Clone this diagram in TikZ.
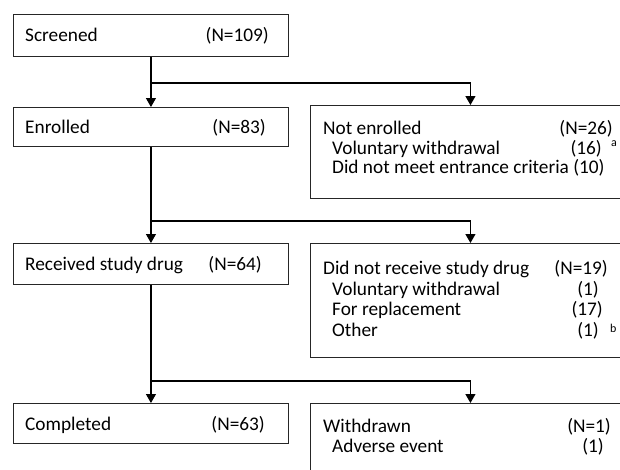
\documentclass[tikz,border=0pt]{standalone}
\usepackage{fontspec}
\setmainfont{Carlito}
\usetikzlibrary{arrows.meta}
\begin{document}
\begin{tikzpicture}[x=1pt,y=-1pt,
  box/.style={draw=black!85, line width=0.9pt, anchor=north west, inner sep=0pt},
  conn/.style={draw=black, line width=1.1pt},
  arr/.style={conn, -{Triangle[length=9pt,width=10pt]}},
  lt/.style={anchor=base west, inner sep=0pt, font=\fontsize{19.3}{21}\selectfont},
  rt/.style={anchor=base east, inner sep=0pt, font=\fontsize{19.3}{21}\selectfont},
  supt/.style={anchor=base west, inner sep=0pt, font=\fontsize{12}{13}\selectfont}]
\clip (0,0) rectangle (620,469);
\fill[white] (0,0) rectangle (620,469);
% boxes
\node[box, minimum width=275pt, minimum height=42pt] (scr) at (13,14) {};
\node[box, minimum width=275pt, minimum height=39pt] (enr) at (13,107) {};
\node[box, minimum width=320pt, minimum height=93pt] (ne) at (310,105) {};
\node[box, minimum width=275pt, minimum height=41pt] (rec) at (13,243) {};
\node[box, minimum width=320pt, minimum height=114pt] (nr) at (310,243) {};
\node[box, minimum width=275pt, minimum height=40pt] (com) at (13,403) {};
\node[box, minimum width=320pt, minimum height=80pt] (wd) at (310,403) {};
% junctions
\coordinate (j1) at (150,83);
\coordinate (j2) at (150,221);
\coordinate (j3) at (150,381);
% connectors
\draw[arr] (scr.south) -- (enr.north);
\draw[arr] (scr.south |- j1) -| (ne.north);
\draw[arr] (enr.south) -- (rec.north);
\draw[arr] (enr.south |- j2) -| (nr.north);
\draw[arr] (rec.south) -- (com.north);
\draw[arr] (rec.south |- j3) -| (wd.north);
% left texts
\node[lt] (t1) at (25,41) {Screened};
\node[rt] (t1n) at (269,41) {(N=109)};
\node[lt] (t2) at (25,133) {Enrolled};
\node[rt] (t2n) at (266,133) {(N=83)};
\node[lt] (t3) at (25,270) {Received study drug};
\node[rt] (t3n) at (262,270) {(N=64)};
\node[lt] (t4) at (25,430) {Completed};
\node[rt] (t4n) at (265,430) {(N=63)};
% not enrolled
\node[lt] (n1) at (323,134) {Not enrolled};
\node[rt] (n1n) at (613,134) {(N=26)};
\node[lt] (n2) at (332,154) {Voluntary withdrawal};
\node[rt] (n2n) at (602,154) {(16)};
\node[supt] (n2s) at (611,146.5) {a};
\node[lt] (n3) at (332,173) {Did not meet entrance criteria (10)};
% did not receive
\node[lt] (r1) at (323,274) {Did not receive study drug};
\node[rt] (r1n) at (608,274) {(N=19)};
\node[lt] (r2) at (332,295) {Voluntary withdrawal};
\node[rt] (r2n) at (599,295) {(1)};
\node[lt] (r3) at (332,315.5) {For replacement};
\node[rt] (r3n) at (603,315.5) {(17)};
\node[lt] (r4) at (332,336) {Other};
\node[rt] (r4n) at (599,336) {(1)};
\node[supt] (r4s) at (610,332) {b};
% withdrawn
\node[lt] (w1) at (323,432) {Withdrawn};
\node[rt] (w1n) at (611,432) {(N=1)};
\node[lt] (w2) at (332,452) {Adverse event};
\node[rt] (w2n) at (604,452) {(1)};
\end{tikzpicture}
\end{document}
